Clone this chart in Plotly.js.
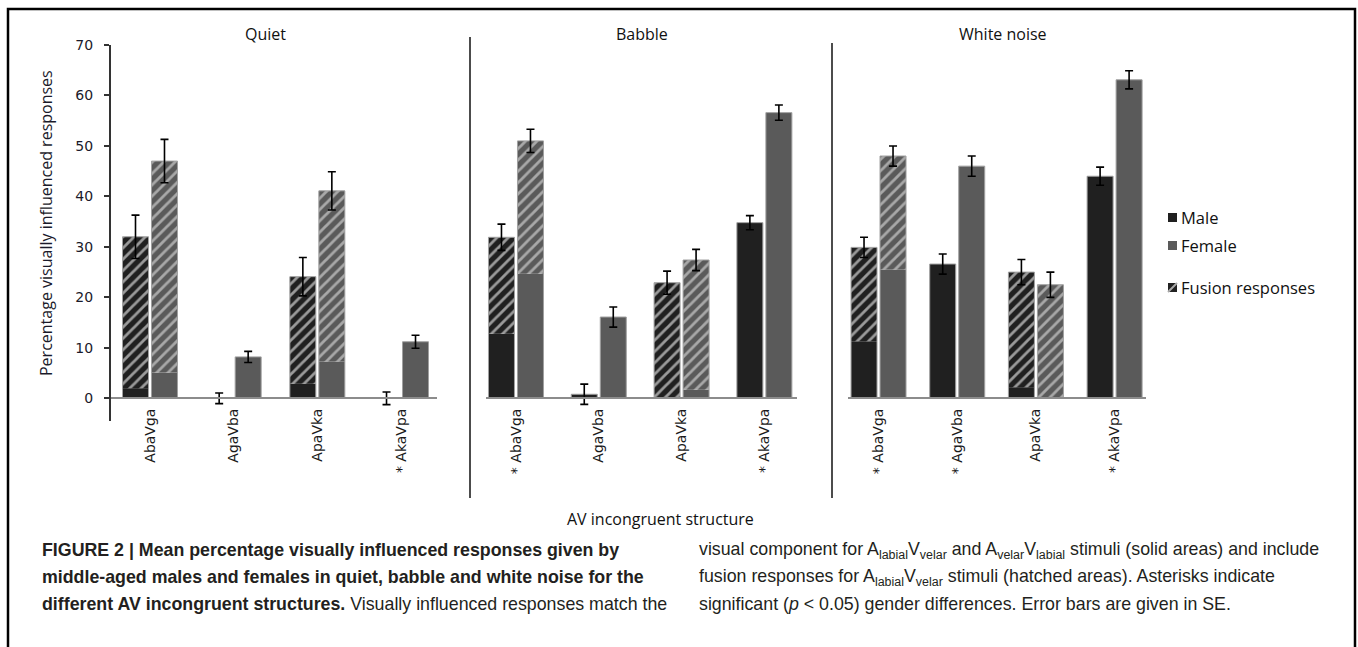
<!DOCTYPE html>
<html>
<head>
<meta charset="utf-8">
<script src="https://cdn.plot.ly/plotly-3.0.1.min.js"></script>
<style>html,body{margin:0;padding:0;background:#fff;}#chart{width:1358px;height:647px;}</style>
</head>
<body>
<div id="chart"></div>
<script>
// ---------- data ----------
const quietCats  = ['AbaVga', 'AgaVba', 'ApaVka', '* AkaVpa'];
const babbleCats = ['* AbaVga', 'AgaVba', 'ApaVka', '* AkaVpa'];
const whiteCats  = ['* AbaVga', '* AgaVba', 'ApaVka', '* AkaVpa'];

// totals (solid + hatched fusion part)
const quietMale   = [32.0, 0.0, 24.1, 0.0];
const quietFemale = [47.0, 8.2, 41.1, 11.2];
const babbleMale   = [31.9, 0.8, 22.9, 34.8];
const babbleFemale = [51.0, 16.1, 27.4, 56.6];
const whiteMale   = [29.9, 26.6, 25.0, 44.0];
const whiteFemale = [48.0, 46.0, 22.5, 63.1];

// solid (non-fusion) part of each bar
const quietMaleSolid   = [2.0, 0.0, 2.9, 0.0];
const quietFemaleSolid = [5.1, 8.2, 7.3, 11.2];
const babbleMaleSolid   = [12.8, 0.8, 0.0, 34.8];
const babbleFemaleSolid = [24.7, 16.1, 1.7, 56.6];
const whiteMaleSolid   = [11.3, 26.6, 2.2, 44.0];
const whiteFemaleSolid = [25.5, 46.0, 0.0, 63.1];

// standard errors
const quietMaleSE   = [4.3, 1.05, 3.8, 1.25];
const quietFemaleSE = [4.3, 1.1, 3.8, 1.3];
const babbleMaleSE   = [2.6, 2.0, 2.3, 1.4];
const babbleFemaleSE = [2.3, 2.0, 2.1, 1.5];
const whiteMaleSE   = [2.0, 2.0, 2.5, 1.8];
const whiteFemaleSE = [2.0, 2.0, 2.5, 1.8];

const panelTitles = ['Quiet', 'Babble', 'White noise'];
const yTicks = [0, 10, 20, 30, 40, 50, 60, 70];

// ---------- layout helpers ----------
const W = 1358, H = 647;
const px = x => x / W;
const py = y => 1 - y / H;

const panels = [
  {cats: quietCats, m: quietMale, f: quietFemale, ms: quietMaleSolid, fs: quietFemaleSolid, mse: quietMaleSE, fse: quietFemaleSE,
   dom: [111, 437], range: [-0.466, 3.43], unit: 83.7},
  {cats: babbleCats, m: babbleMale, f: babbleFemale, ms: babbleMaleSolid, fs: babbleFemaleSolid, mse: babbleMaleSE, fse: babbleFemaleSE,
   dom: [486, 797], range: [-0.362, 3.394], unit: 82.8},
  {cats: whiteCats, m: whiteMale, f: whiteFemale, ms: whiteMaleSolid, fs: whiteFemaleSolid, mse: whiteMaleSE, fse: whiteFemaleSE,
   dom: [848, 1146], range: [-0.388, 3.399], unit: 78.7}
];

const MALE = '#202020', FEMALE = '#5a5a5a';
const styles = {
  male:   {color: MALE,   hatchFg: '#9a9a9a'},
  female: {color: FEMALE, hatchFg: '#a8a8a8'}
};

const traces = [];
panels.forEach((p, i) => {
  const xa = i === 0 ? 'x' : 'x' + (i + 1);
  const ya = i === 0 ? 'y' : 'y' + (i + 1);
  const bw = 26 / p.unit;
  const groups = [
    {tot: p.m, solid: p.ms, se: p.mse, st: styles.male, off: -27.5 / p.unit},
    {tot: p.f, solid: p.fs, se: p.fse, st: styles.female, off: 1.5 / p.unit}
  ];
  groups.forEach(g => {
    // solid part
    traces.push({type: 'bar', x: p.cats, y: g.solid, base: p.cats.map(() => 0),
      xaxis: xa, yaxis: ya, width: bw, offset: g.off,
      marker: {color: g.st.color, line: {width: 0}}, hoverinfo: 'skip', showlegend: false});
    // hatched fusion part
    traces.push({type: 'bar', x: p.cats, y: g.tot.map((t, k) => t - g.solid[k]), base: g.solid,
      xaxis: xa, yaxis: ya, width: bw, offset: g.off,
      marker: {color: g.st.color, line: {width: 0},
        pattern: {shape: '/', bgcolor: g.st.color, fgcolor: g.st.hatchFg, size: 8, solidity: 0.35}},
      hoverinfo: 'skip', showlegend: false});
    // outline + error bars
    traces.push({type: 'bar', x: p.cats, y: g.tot, xaxis: xa, yaxis: ya, width: bw, offset: g.off,
      marker: {color: 'rgba(0,0,0,0)', line: {color: '#a0a0a0', width: 1}},
      error_y: {type: 'data', array: g.se, visible: true, color: '#000', thickness: 1.6, width: 4},
      hoverinfo: 'skip', showlegend: false});
  });
});

const yDom = [py(421), py(45)];
const layout = {
  width: W, height: H, autosize: false,
  margin: {l: 0, r: 0, t: 0, b: 0, pad: 0},
  paper_bgcolor: '#fff', plot_bgcolor: 'rgba(0,0,0,0)',
  barmode: 'overlay', showlegend: false,
  font: {family: 'DejaVu Sans, sans-serif', color: '#1a1a1a'},
  annotations: [], shapes: []
};

panels.forEach((p, i) => {
  const sfx = i === 0 ? '' : String(i + 1);
  layout['xaxis' + sfx] = {
    domain: [px(p.dom[0]), px(p.dom[1])], range: p.range, type: 'category',
    anchor: 'free', position: py(398),
    showline: true, linecolor: '#8c8c8c', linewidth: 2,
    ticks: '', showgrid: false, zeroline: false, tickangle: -90,
    tickfont: {family: 'DejaVu Sans, sans-serif', size: 14, color: '#1a1a1a'},
    ticklabelstandoff: 4, fixedrange: true
  };
  layout['yaxis' + sfx] = {
    domain: yDom, range: [-4.5, 70], anchor: i === 0 ? 'x' : 'x' + (i + 1),
    visible: i === 0, showgrid: false, zeroline: false,
    showline: true, linecolor: '#333', linewidth: 2,
    ticks: 'outside', ticklen: 5, tickwidth: 2, tickcolor: '#333',
    tickvals: yTicks, ticktext: yTicks.map(String), ticklabelstandoff: 8,
    tickfont: {family: 'DejaVu Sans, sans-serif', size: 14, color: '#1a1a2a'}, fixedrange: true
  };
});

const titleX = [265, 642, 1003];
panelTitles.forEach((t, i) => {
  layout.annotations.push({text: t, x: px(titleX[i]), y: py(34), xref: 'paper', yref: 'paper',
    xanchor: 'center', yanchor: 'middle', showarrow: false,
    font: {family: 'Open Sans, sans-serif', size: 16, color: '#111'}});
});

layout.annotations.push({text: 'Percentage visually influenced responses', textangle: -90,
  x: px(46), y: py(223), xref: 'paper', yref: 'paper', xanchor: 'center', yanchor: 'middle',
  showarrow: false, font: {family: 'Open Sans, sans-serif', size: 16, color: '#1a1a2a'}});
layout.annotations.push({text: 'AV incongruent structure', x: px(660), y: py(519), xref: 'paper', yref: 'paper',
  xanchor: 'center', yanchor: 'middle', showarrow: false,
  font: {family: 'Open Sans, sans-serif', size: 16, color: '#111'}});

// legend (manual)
const legItems = [['Male', 217, MALE], ['Female', 245, FEMALE], ['Fusion responses', 287, null]];
legItems.forEach(([t, y, c]) => {
  layout.annotations.push({text: t, x: px(1179), y: py(y), xref: 'paper', yref: 'paper',
    xanchor: 'left', yanchor: 'middle', showarrow: false,
    font: {family: 'Open Sans, sans-serif', size: 16.5, color: '#111'}});
  layout.shapes.push({type: 'rect', xref: 'paper', yref: 'paper',
    x0: px(1168), x1: px(1177), y0: py(y + 5), y1: py(y - 4),
    fillcolor: c || '#222', line: {width: 0}});
  if (!c) {
    layout.shapes.push({type: 'line', xref: 'paper', yref: 'paper',
      x0: px(1168), x1: px(1177), y0: py(y + 5), y1: py(y - 4),
      line: {color: '#aaa', width: 2}});
  }
});

// panel separators
layout.shapes.push({type: 'line', xref: 'paper', yref: 'paper', x0: px(470), x1: px(470), y0: py(37), y1: py(498), line: {color: '#111', width: 1.5}});
layout.shapes.push({type: 'line', xref: 'paper', yref: 'paper', x0: px(832), x1: px(832), y0: py(43), y1: py(498), line: {color: '#111', width: 1.5}});
// outer frame
layout.shapes.push({type: 'rect', xref: 'paper', yref: 'paper', x0: px(8), x1: px(1355), y0: py(9), y1: py(700),
  line: {color: '#000', width: 2.5}, fillcolor: 'rgba(0,0,0,0)'});

// caption
const capFont = {family: 'Liberation Sans, Arial, sans-serif', size: 17.8, color: '#231f20'};
const leftLines = [
  '<b>FIGURE 2 | Mean percentage visually influenced responses given by</b>',
  '<b>middle-aged males and females in quiet, babble and white noise for the</b>',
  '<b>different AV incongruent structures.</b> Visually influenced responses match the'
];
const rightLines = [
  'visual component for A<sub>labial</sub>V<sub>velar</sub> and A<sub>velar</sub>V<sub>labial</sub> stimuli (solid areas) and include',
  'fusion responses for A<sub>labial</sub>V<sub>velar</sub> stimuli (hatched areas). Asterisks indicate',
  'significant (<i>p</i> &lt; 0.05) gender differences. Error bars are given in SE.'
];
const lineY = [550, 577, 604];
leftLines.forEach((t, k) => layout.annotations.push({text: t, x: px(40), y: py(lineY[k]), xref: 'paper', yref: 'paper',
  xanchor: 'left', yanchor: 'middle', showarrow: false, font: capFont}));
rightLines.forEach((t, k) => layout.annotations.push({text: t, x: px(697), y: py(lineY[k]), xref: 'paper', yref: 'paper',
  xanchor: 'left', yanchor: 'middle', showarrow: false, font: capFont}));

Plotly.newPlot('chart', traces, layout, {staticPlot: true, displayModeBar: false});
</script>
</body>
</html>
